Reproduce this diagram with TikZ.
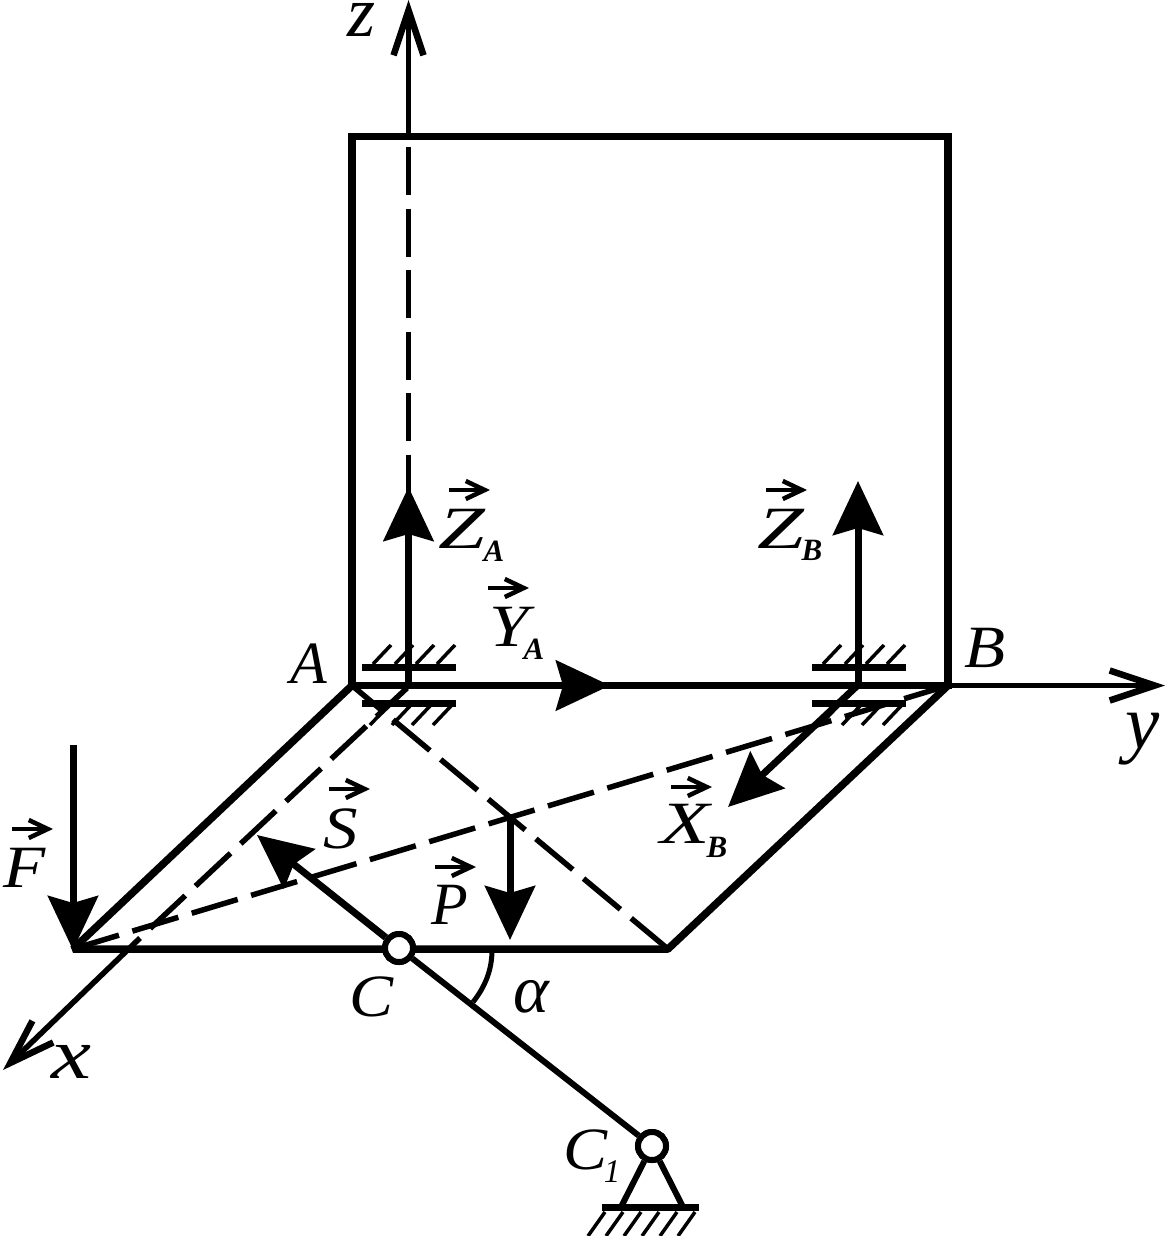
\documentclass[tikz,border=0pt]{standalone}
\usepackage{fontspec}
\setmainfont{Liberation Serif}
\usetikzlibrary{arrows.meta}
\tikzset{
  x=1pt,y=-1pt,
  frame/.style={line width=7.5pt,line join=miter},
  plate/.style={line width=7.5pt,line join=bevel},
  rod/.style={line width=6pt},
  dashline/.style={line width=5.5pt,dash pattern=on 48pt off 14pt},
  force/.style={line width=7pt,-{Stealth[length=54pt,width=50pt,inset=7pt]}},
  axis/.style={line width=5.5pt,-{Straight Barb[length=45pt,width=30pt,line width=6.5pt]}},
  hatch/.style={line width=3.5pt},
  bar/.style={line width=7pt},
  hinge/.style={circle,draw,fill=white,line width=6pt,minimum size=28pt,inner sep=0pt},
  lab/.style={inner sep=0pt,anchor=base,font=\fontsize{60}{60}\selectfont\itshape},
  biglab/.style={inner sep=0pt,anchor=base,font=\fontsize{72}{72}\selectfont\itshape},
  sub/.style={inner sep=0pt,anchor=base,font=\fontsize{31}{31}\selectfont\itshape\bfseries},
  vecbar/.style={line width=4.5pt,-{Straight Barb[length=19pt,width=18pt,line width=4.5pt]}},
}
\newcommand{\vecmark}[2]{\draw[vecbar] (#1,#2) -- ++(41,0);}
\newcommand{\wide}[2]{\scalebox{#1}[1]{#2}}
\newcommand{\bearing}[1]{%
  \begin{scope}[xshift=#1pt]
    \draw[bar] (362,667) -- (456,667);
    \draw[bar] (362,703) -- (456,703);
    \foreach \x in {373,395,416,437} \draw[hatch] (\x,664) -- ++(18,-19);
    \foreach \x in {370,392,412,433} \draw[hatch] (\x,725) -- ++(18,-19);
  \end{scope}}
\begin{document}
\begin{tikzpicture}
\useasboundingbox (0,0) rectangle (1165,1236);
\coordinate (A) at (352,685.5);
\coordinate (B) at (948,685.5);
\coordinate (TL) at (352,136.5);
\coordinate (TR) at (948,136.5);
\coordinate (F) at (73,949);
\coordinate (D) at (668,949);
\coordinate (O) at (408.5,685);
\coordinate (O2) at (858,685);
\coordinate (Ctr) at (510,818);
\coordinate (Ftop) at (73,745);
\coordinate (Ftip) at (73,950);
\coordinate (Ptip) at (510,940);
\coordinate (ZAtip) at (408.5,487);
\coordinate (ZBtip) at (858,481);
\coordinate (YAtip) at (610,685.5);
\coordinate (XBtip) at (728,807);
\coordinate (Stip) at (257,835);
\coordinate (ztop) at (408.5,0);
\coordinate (zin) at (408.5,136);
\coordinate (ydir) at (1165,685.5);
\coordinate (xtip) at (3,1070);
\coordinate (xa) at (140,938);
\coordinate (xb) at (407,688);
\coordinate (arcA) at (492,950);
\coordinate (arcB) at (473,1002);
\coordinate (S1) at (621,1207);
\coordinate (S2) at (683,1207);
\coordinate (Sa) at (602,1207);
\coordinate (Sb) at (699,1207);
% plate
\draw[frame] (A) -- (TL) -- (TR) -- (B) -- cycle;
\draw[plate] (A) -- (F) -- (D) -- (B);
% axes
\draw[axis] (zin) -- (ztop);
\draw[dashline,dash pattern=on 48pt off 13.5pt,dash phase=50.5pt] (zin) -- (O);
\draw[axis] (A) -- (ydir);
\draw[axis] (xa) -- (xtip);
\draw[dashline,dash phase=48pt] (xa) -- (xb);
% dashed diagonals
\draw[dashline] (F) -- (B);
\draw[dashline] (D) -- (A);
% bearings
\bearing{0}
\bearing{450}
% forces
\draw[force] (O) -- (ZAtip);
\draw[force] (O2) -- (ZBtip);
\draw[force] (A) -- (YAtip);
\draw[force] (O2) -- (XBtip);
\draw[force] (Ftop) -- (Ftip);
\draw[force] (Ctr) -- (Ptip);
% rod
\node[hinge] (C) at (399,948) {};
\node[hinge] (C1) at (652,1146) {};
\draw[force] (C) -- (Stip);
\draw[rod] (C) -- (C1);
\draw[rod] (C1) -- (S1);
\draw[rod] (C1) -- (S2);
\node[hinge] at (C) {};
\node[hinge] at (C1) {};
\draw[bar] (Sa) -- (Sb);
\foreach \x in {605,623,641,659,677,695} \draw[hatch] (\x,1212) -- ++(-17,24);
\draw[rod,line width=5pt] (arcA) .. controls (492,970) and (485,987) .. (arcB);
% labels
\node[biglab] (lz) at (362,37) {z};
\node[lab] (lA) at (309,683) {A};
\node[lab] (lB) at (985,667) {\wide{1.12}{B}};
\node[biglab,font=\fontsize{77}{77}\selectfont\itshape] (ly) at (1143,748) {y};
\node[biglab] (lx) at (71,1078) {\wide{1.25}{x}};
\node[lab] (lZA) at (462,548) {\wide{1.4}{Z}};
\node[sub] (lZAs) at (494,561) {A};
\vecmark{449}{490}
\node[lab] (lYA) at (509,646) {\wide{1.18}{Y}};
\node[sub] (lYAs) at (534,659) {A};
\vecmark{488}{588}
\node[lab] (lZB) at (781,548) {\wide{1.4}{Z}};
\node[sub] (lZBs) at (812,560) {B};
\vecmark{766}{490}
\node[lab] (lXB) at (685,843) {\wide{1.35}{X}};
\node[sub] (lXBs) at (717,857) {B};
\vecmark{671}{787}
\node[lab] (lF) at (25,887) {\wide{1.15}{F}};
\vecmark{12}{829}
\node[lab] (lS) at (341,848) {\wide{1.15}{S}};
\vecmark{329}{789}
\node[lab] (lP) at (450,924) {P};
\vecmark{435}{867}
\node[lab] (lC) at (372,1016) {\wide{1.1}{C}};
\node[lab,font=\fontsize{68}{68}\selectfont\itshape] (la) at (531,1012) {α};
\node[lab] (lC1) at (586,1169) {\wide{1.1}{C}};
\node[inner sep=0pt,anchor=base,font=\fontsize{33}{33}\selectfont\itshape] (lC1s) at (612,1182) {1};
\end{tikzpicture}
\end{document}
